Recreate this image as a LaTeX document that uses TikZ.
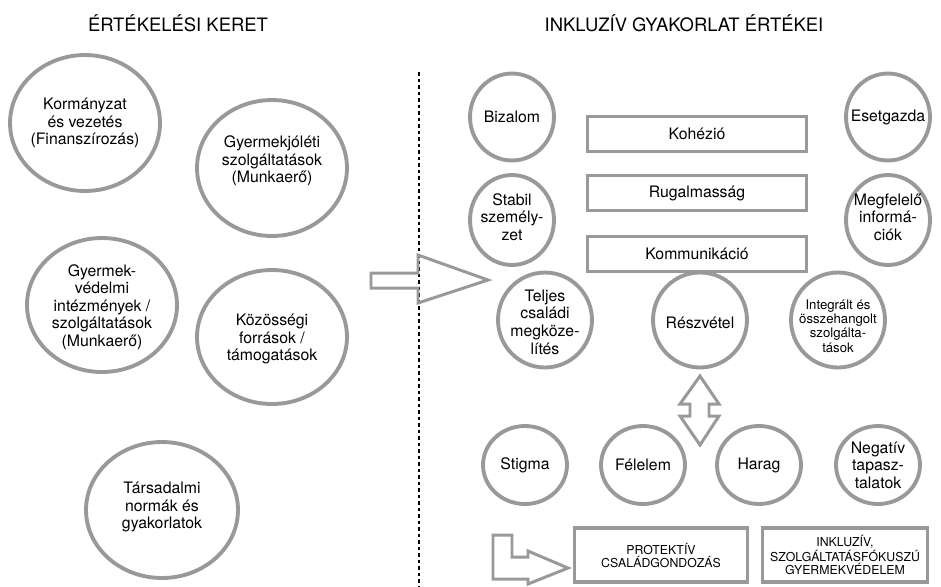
\documentclass[tikz,border=0pt]{standalone}
\usepackage{fontspec}
\setmainfont{TeX Gyre Heros}
\tikzset{
	ring/.style={draw=black!40, line width=2.2pt},
	lbl/.style={align=center, inner sep=0pt, font=\fontsize{9}{10}\selectfont},
	lblsmall/.style={align=center, inner sep=0pt, font=\fontsize{7.5}{8.2}\selectfont},
	ttl/.style={inner sep=0pt, font=\fontsize{10.5}{12}\selectfont},
	bar/.style={draw=black!40, line width=2pt, minimum width=4.38cm, minimum height=0.7cm, inner sep=0pt, font=\fontsize{9}{10}\selectfont},
	capsbox/.style={draw=black!40, line width=2pt, minimum height=1.08cm, align=center, inner sep=0pt, font=\fontsize{7}{7.4}\selectfont},
	blockarrow/.style={draw=black!40, line width=1.7pt, line join=miter},
}

\begin{document}
\begin{tikzpicture}[x=0.02cm, y=-0.02cm]
		%%%%% START %%%%%
		\useasboundingbox (0,0) rectangle (941,586);
		
		\node[ttl] (keret) at (178,23) {ÉRTÉKELÉSI KERET};
		\node[ttl] (ertekei) at (684,23) {INKLUZÍV GYAKORLAT ÉRTÉKEI};
		
		\coordinate (septop) at (419,72);
		\coordinate (sepbot) at (419,586);
		\draw[line width=1.5pt, dash pattern=on 2.2pt off 1.5pt] (septop) -- (sepbot);
		
		% keret
		\draw[ring] (85,123) ellipse (1.5cm and 1.36cm);
		\node[lbl] (kormany) at (85,123) {Kormányzat\\és vezetés\\(Finanszírozás)};
		
		\draw[ring] (272,168) ellipse (1.5cm and 1.36cm);
		\node[lbl] (joleti) at (272,161) {Gyermekjóléti\\szolgáltatások\\(Munkaerő)};
		
		\draw[ring] (102,305) ellipse (1.5cm and 1.34cm);
		\node[lbl] (vedelmi) at (102,307) {Gyermek-\\védelmi\\intézmények /\\szolgáltatások\\(Munkaerő)};
		
		\draw[ring] (272,337) ellipse (1.5cm and 1.34cm);
		\node[lbl] (kozossegi) at (272,339) {Közösségi\\források /\\támogatások};
		
		\draw[ring] (162,510) ellipse (1.52cm and 1.36cm);
		\node[lbl] (tarsadalmi) at (162,507) {Társadalmi\\normák és\\gyakorlatok};
		
		\draw[blockarrow] (371,273) -- (418,273) -- (418,255) -- (488,280) -- (418,303) -- (418,288) -- (371,288) -- cycle;
		
		% ertekek
		\draw[ring] (512,117) ellipse (0.84cm and 0.87cm);
		\node[lbl] (bizalom) at (512,117) {Bizalom};
		
		\draw[ring] (888,117) ellipse (0.84cm and 0.87cm);
		\node[lbl] (esetgazda) at (888,117) {Esetgazda};
		
		\draw[ring] (512,220) ellipse (0.84cm and 0.9cm);
		\node[lbl] (stabil) at (512,217) {Stabil\\személy-\\zet};
		
		\draw[ring] (888,220) ellipse (0.84cm and 0.9cm);
		\node[lbl] (megfelelo) at (888,217) {Megfelelő\\informá-\\ciók};
		
		\node[bar] (kohezio) at (697,134) {Kohézió};
		\node[bar] (rugalmassag) at (697,193) {Rugalmasság};
		\node[bar] (kommunikacio) at (697,254) {Kommunikáció};
		
		\draw[ring] (545,320) ellipse (0.94cm and 0.95cm);
		\node[lbl] (teljes) at (545,322) {Teljes\\családi\\megköze-\\lítés};
		
		\draw[ring] (700,320) ellipse (0.94cm and 0.95cm);
		\node[lbl] (reszvetel) at (700,323) {Részvétel};
		
		\draw[ring] (838,320) ellipse (0.94cm and 0.95cm);
		\node[lblsmall] (integralt) at (838,326) {Integrált és\\összehangolt\\szolgálta-\\tások};
		
		\draw[blockarrow] (700,376) -- (719,404) -- (709,404) -- (709,416) -- (719,416) -- (700,445) -- (680,416) -- (690,416) -- (690,404) -- (680,404) -- cycle;
		
		\draw[ring] (525,465) ellipse (0.84cm and 0.78cm);
		\node[lbl] (stigma) at (525,465) {Stigma};
		
		\draw[ring] (643,465) ellipse (0.84cm and 0.78cm);
		\node[lbl] (felelem) at (643,465) {Félelem};
		
		\draw[ring] (759,465) ellipse (0.84cm and 0.78cm);
		\node[lbl] (harag) at (759,465) {Harag};
		
		\draw[ring] (878,465) ellipse (0.84cm and 0.78cm);
		\node[lbl] (negativ) at (878,465) {Negatív\\tapasz-\\talatok};
		
		\draw[blockarrow] (493,535) -- (512,535) -- (512,557) -- (528,557) -- (528,551) -- (568,568) -- (528,584) -- (528,579) -- (493,579) -- cycle;
		
		\node[capsbox, minimum width=3.46cm] (protektiv) at (661,555) {PROTEKTÍV\\CSALÁDGONDOZÁS};
		\node[capsbox, minimum width=3.3cm] (inkluziv) at (845,555) {INKLUZÍV,\\SZOLGÁLTATÁSFÓKUSZÚ\\GYERMEKVÉDELEM};
		
		%%%%% END %%%%%
\end{tikzpicture}
\end{document}
